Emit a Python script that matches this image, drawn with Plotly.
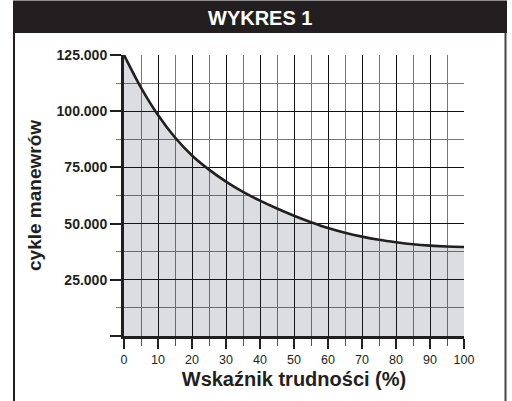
import plotly.graph_objects as go

# Difficulty index (%) and the corresponding number of manoeuvre cycles
trudnosc = [0, 5, 10, 15, 20, 25, 30, 35, 40, 45, 50,
            55, 60, 65, 70, 75, 80, 85, 90, 95, 100]
cykle = [125000, 110500, 98300, 88300, 80300, 74000, 68700, 64100, 60200, 56700, 53500,
         50600, 48000, 45900, 44200, 42800, 41700, 40800, 40200, 39800, 39600]

x_ticks = [0, 10, 20, 30, 40, 50, 60, 70, 80, 90, 100]
y_ticks = [0, 25000, 50000, 75000, 100000, 125000]
y_labels = ["", "25.000", "50.000", "75.000", "100.000", "125.000"]
y_minor = [12500, 37500, 62500, 87500, 112500]

DARK = "#231f20"
FONT = "Liberation Sans, Arial, sans-serif"

W, H = 512, 401
L, R, T, B = 124, 48, 55, 65
PW, PH = W - L - R, H - T - B


def px(xpix):
    return (xpix - L) / PW


def py(ypix):
    return 1 - (ypix - T) / PH


fig = go.Figure()

# shaded area under the curve (translucent so the grid stays visible)
fig.add_trace(go.Scatter(
    x=trudnosc, y=cykle, mode="lines",
    line=dict(color=DARK, width=2.6, shape="spline", smoothing=0.8),
    fill="tozeroy", fillcolor="rgba(45,50,70,0.165)",
    hoverinfo="skip", showlegend=False,
))

fig.update_xaxes(
    range=[0, 100], tickmode="array", tickvals=x_ticks,
    showgrid=True, gridcolor="#111111", gridwidth=1,
    ticks="outside", ticklen=10, tickwidth=2, tickcolor=DARK,
    showline=True, linecolor=DARK, linewidth=3,
    zeroline=False,
    tickfont=dict(family=FONT, size=12.5, color=DARK),
    minor=dict(dtick=5, tick0=0, showgrid=True, gridcolor="#777777", gridwidth=1,
               ticks="outside", ticklen=7, tickwidth=1, tickcolor="#555555"),
    title=dict(text="<b>Wskaźnik trudności (%)</b>",
               font=dict(family=FONT, size=20, color=DARK), standoff=6),
)
fig.update_yaxes(
    range=[0, 125000], tickmode="array", tickvals=y_ticks, ticktext=y_labels,
    showgrid=True, gridcolor="#111111", gridwidth=1,
    ticks="outside", ticklen=11, tickwidth=2, tickcolor=DARK,
    showline=True, linecolor=DARK, linewidth=3,
    zeroline=False,
    tickfont=dict(family=FONT, size=14, color=DARK, weight="bold"),
    minor=dict(tickmode="array", tickvals=y_minor, showgrid=True,
               gridcolor="#777777", gridwidth=1,
               ticks="outside", ticklen=5, tickwidth=1, tickcolor="#777777"),
    title=dict(text="<b>cykle manewrów</b>",
               font=dict(family=FONT, size=19, color=DARK), standoff=10),
)

shapes = [
    # header bar
    dict(type="rect", xref="paper", yref="paper",
         x0=px(13), x1=px(507), y0=py(33), y1=py(0.5),
         fillcolor=DARK, line=dict(width=0), layer="above"),
    # frame sides
    dict(type="line", xref="paper", yref="paper",
         x0=px(14), x1=px(14), y0=py(401), y1=py(33),
         line=dict(color=DARK, width=2)),
    dict(type="line", xref="paper", yref="paper",
         x0=px(505.5), x1=px(505.5), y0=py(401), y1=py(33),
         line=dict(color="#444444", width=2)),
]

fig.update_layout(
    width=W, height=H,
    margin=dict(l=L, r=R, t=T, b=B, pad=0),
    paper_bgcolor="white", plot_bgcolor="white",
    font=dict(family=FONT, color=DARK),
    shapes=shapes,
    annotations=[dict(
        text="<b>WYKRES 1</b>", xref="paper", yref="paper",
        x=px(260), y=py(17.5), xanchor="center", yanchor="middle",
        showarrow=False, font=dict(family=FONT, size=20, color="white"),
    )],
)

fig.write_html("out.html")
